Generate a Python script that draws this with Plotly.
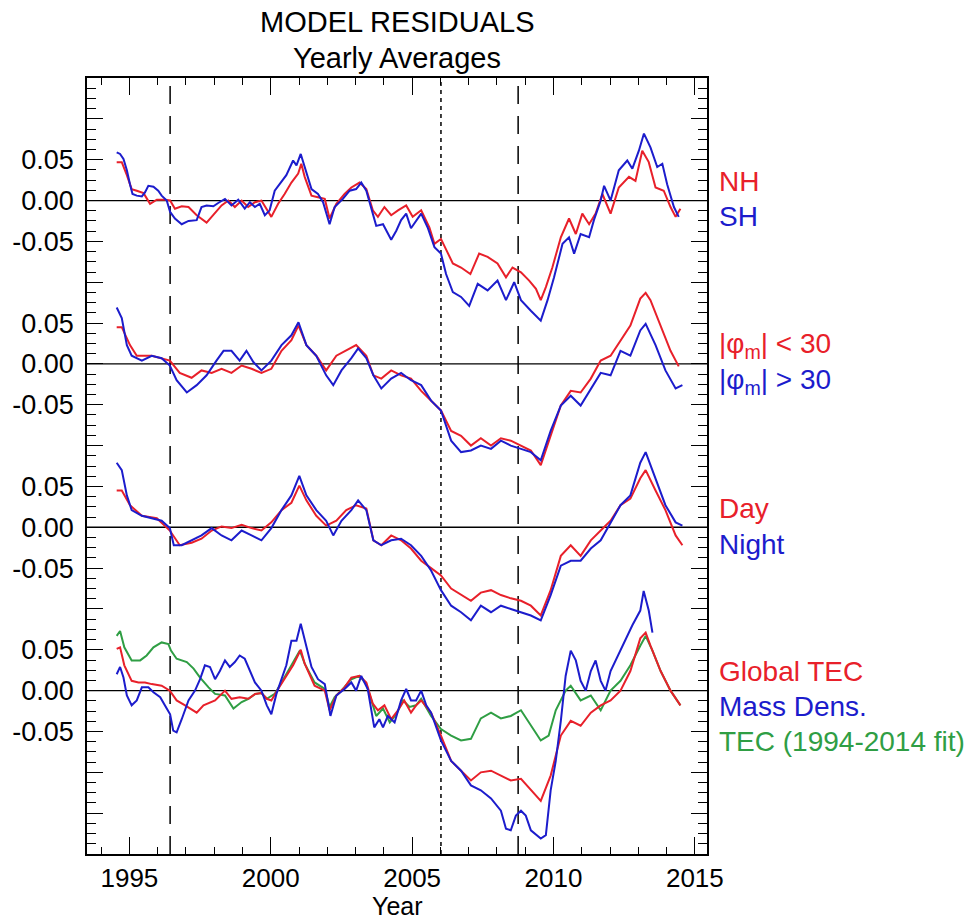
import plotly.graph_objects as go

# ---------------- data: yearly running-mean residuals ----------------
# Panel 1: hemispheres
nh_year = [1994.55, 1994.73, 1994.91, 1995.08, 1995.26, 1995.50, 1995.73, 1995.97, 1996.26, 1996.44,
           1996.61, 1996.85, 1997.09, 1997.38, 1997.73, 1997.97, 1998.26, 1998.50, 1998.73, 1998.97,
           1999.20, 1999.44, 1999.67, 2000.02, 2000.26, 2000.49, 2000.73, 2000.97, 2001.08, 2001.20,
           2001.44, 2001.67, 2001.91, 2002.08, 2002.32, 2002.61, 2002.85, 2003.14, 2003.38, 2003.61,
           2003.79, 2004.02, 2004.26, 2004.50, 2004.79, 2005.02, 2005.32, 2005.61, 2005.79, 2006.02,
           2006.26, 2006.44, 2006.73, 2007.06, 2007.37, 2007.67, 2008.02, 2008.32, 2008.55, 2008.85,
           2009.14, 2009.38, 2009.55, 2009.73, 2009.96, 2010.26, 2010.55, 2010.79, 2011.02, 2011.26,
           2011.49, 2011.73, 2012.02, 2012.31, 2012.67, 2012.90, 2013.14, 2013.37, 2013.61, 2013.90,
           2014.14, 2014.32, 2014.49]
nh_val = [0.047, 0.047, 0.031, 0.014, 0.012, 0.009, -0.004, 0.001, 0.001, 0.000,
          -0.010, -0.007, -0.008, -0.018, -0.027, -0.018, -0.006, 0.000, -0.008, 0.000,
          -0.008, -0.002, 0.000, -0.020, -0.004, 0.008, 0.022, 0.033, 0.045, 0.029,
          0.006, 0.004, 0.002, -0.022, -0.004, 0.008, 0.016, 0.022, 0.014, -0.012,
          -0.020, -0.008, -0.018, -0.012, -0.006, -0.020, -0.012, -0.033, -0.053, -0.047,
          -0.065, -0.077, -0.082, -0.090, -0.065, -0.069, -0.077, -0.094, -0.082, -0.088,
          -0.098, -0.108, -0.122, -0.106, -0.082, -0.045, -0.022, -0.041, -0.016, -0.029,
          -0.016, 0.008, -0.016, 0.016, 0.029, 0.024, 0.061, 0.047, 0.016, 0.012,
          -0.008, -0.020, -0.010]

sh_year = [1994.55, 1994.67, 1994.79, 1994.91, 1995.02, 1995.11, 1995.26, 1995.44, 1995.55, 1995.67,
           1995.85, 1996.02, 1996.14, 1996.32, 1996.44, 1996.61, 1996.85, 1997.09, 1997.38, 1997.55,
           1997.73, 1997.97, 1998.14, 1998.38, 1998.61, 1998.85, 1999.08, 1999.26, 1999.44, 1999.61,
           1999.79, 1999.96, 2000.14, 2000.38, 2000.55, 2000.79, 2000.91, 2001.06, 2001.20, 2001.44,
           2001.67, 2001.85, 2002.08, 2002.26, 2002.55, 2002.79, 2003.02, 2003.20, 2003.38, 2003.55,
           2003.73, 2003.97, 2004.14, 2004.26, 2004.44, 2004.61, 2004.79, 2004.96, 2005.32, 2005.55,
           2005.79, 2006.02, 2006.20, 2006.44, 2006.73, 2007.02, 2007.32, 2007.67, 2008.02, 2008.32,
           2008.61, 2008.85, 2009.20, 2009.55, 2009.79, 2010.02, 2010.32, 2010.55, 2010.73, 2010.96,
           2011.26, 2011.43, 2011.67, 2011.79, 2012.02, 2012.31, 2012.61, 2012.79, 2013.02, 2013.20,
           2013.43, 2013.67, 2013.85, 2014.02, 2014.26, 2014.43]
sh_val = [0.059, 0.057, 0.051, 0.037, 0.020, 0.008, 0.006, 0.005, 0.010, 0.018,
          0.017, 0.012, 0.006, 0.000, -0.014, -0.022, -0.029, -0.025, -0.024, -0.008,
          -0.006, -0.007, -0.003, 0.002, -0.006, 0.001, -0.010, -0.002, -0.008, -0.004,
          -0.018, -0.012, 0.012, 0.024, 0.031, 0.049, 0.043, 0.057, 0.041, 0.014,
          0.008, -0.002, -0.029, -0.008, 0.002, 0.012, 0.014, 0.022, 0.012, -0.008,
          -0.031, -0.029, -0.041, -0.048, -0.037, -0.024, -0.016, -0.034, -0.016, -0.033,
          -0.057, -0.065, -0.090, -0.112, -0.118, -0.129, -0.102, -0.110, -0.098, -0.122,
          -0.100, -0.122, -0.135, -0.147, -0.122, -0.094, -0.053, -0.045, -0.065, -0.041,
          -0.045, -0.024, 0.000, 0.018, 0.000, 0.037, 0.049, 0.039, 0.061, 0.082,
          0.065, 0.041, 0.045, 0.020, -0.008, -0.020]

# Panel 2: magnetic latitude bands
lowlat_year = [1994.55, 1994.73, 1995.02, 1995.26, 1995.79, 1996.14, 1996.43, 1996.78, 1997.20, 1997.55,
               1997.91, 1998.26, 1998.61, 1998.97, 1999.32, 1999.67, 2000.02, 2000.38, 2000.73, 2000.98,
               2001.26, 2001.61, 2001.96, 2002.32, 2002.67, 2003.02, 2003.38, 2003.63, 2003.91, 2004.26,
               2004.61, 2004.96, 2005.32, 2005.67, 2006.02, 2006.38, 2006.73, 2007.08, 2007.43, 2007.79,
               2008.14, 2008.49, 2008.85, 2009.20, 2009.55, 2009.90, 2010.26, 2010.61, 2010.96, 2011.32,
               2011.67, 2012.02, 2012.37, 2012.72, 2013.07, 2013.26, 2013.43, 2013.79, 2014.14, 2014.43]
lowlat_val = [0.045, 0.045, 0.023, 0.010, 0.010, 0.007, 0.004, -0.011, -0.017, -0.008,
              -0.011, -0.006, -0.011, -0.002, -0.006, -0.011, -0.006, 0.016, 0.029, 0.047,
              0.023, 0.010, -0.008, 0.010, 0.016, 0.023, 0.010, -0.014, -0.018, -0.008,
              -0.014, -0.018, -0.033, -0.045, -0.057, -0.082, -0.088, -0.100, -0.091, -0.100,
              -0.091, -0.094, -0.100, -0.106, -0.124, -0.088, -0.051, -0.033, -0.035, -0.018,
              0.004, 0.010, 0.029, 0.047, 0.080, 0.087, 0.078, 0.047, 0.016, -0.003]

highlat_year = [1994.55, 1994.73, 1994.91, 1995.08, 1995.44, 1995.79, 1996.14, 1996.43, 1996.67, 1997.03,
                1997.38, 1997.73, 1998.08, 1998.33, 1998.61, 1998.90, 1999.14, 1999.39, 1999.67, 2000.02,
                2000.38, 2000.73, 2000.98, 2001.26, 2001.61, 2001.96, 2002.21, 2002.50, 2002.85, 2003.09,
                2003.38, 2003.63, 2003.91, 2004.26, 2004.61, 2004.96, 2005.32, 2005.67, 2006.02, 2006.38,
                2006.73, 2007.08, 2007.43, 2007.79, 2008.14, 2008.49, 2008.85, 2009.20, 2009.55, 2009.90,
                2010.26, 2010.61, 2010.96, 2011.32, 2011.67, 2012.02, 2012.37, 2012.72, 2013.07, 2013.26,
                2013.61, 2013.96, 2014.32, 2014.56]
highlat_val = [0.069, 0.056, 0.023, 0.010, 0.004, 0.010, 0.007, -0.002, -0.020, -0.035,
               -0.026, -0.014, 0.004, 0.016, 0.016, 0.004, 0.016, 0.002, -0.008, 0.004,
               0.023, 0.035, 0.051, 0.023, 0.010, -0.014, -0.026, -0.008, 0.007, 0.019,
               0.007, -0.014, -0.030, -0.018, -0.011, -0.020, -0.026, -0.045, -0.057, -0.094,
               -0.108, -0.106, -0.100, -0.104, -0.094, -0.100, -0.104, -0.108, -0.118, -0.082,
               -0.051, -0.039, -0.051, -0.030, -0.011, -0.014, 0.016, 0.010, 0.041, 0.049,
               0.023, -0.008, -0.030, -0.026]

# Panel 3: local time
day_year = [1994.55, 1994.73, 1995.02, 1995.44, 1995.97, 1996.43, 1996.78, 1997.20, 1997.55, 1997.91,
            1998.26, 1998.61, 1998.97, 1999.32, 1999.67, 2000.02, 2000.38, 2000.73, 2001.01, 2001.26,
            2001.61, 2001.96, 2002.32, 2002.67, 2003.02, 2003.38, 2003.63, 2003.91, 2004.26, 2004.61,
            2004.96, 2005.32, 2005.67, 2006.02, 2006.38, 2006.73, 2007.08, 2007.43, 2007.79, 2008.14,
            2008.49, 2008.85, 2009.20, 2009.55, 2009.90, 2010.26, 2010.61, 2010.96, 2011.32, 2011.67,
            2012.02, 2012.37, 2012.72, 2013.07, 2013.26, 2013.61, 2013.96, 2014.32, 2014.56]
day_val = [0.045, 0.045, 0.027, 0.014, 0.011, -0.004, -0.022, -0.019, -0.014, -0.004,
           0.001, -0.001, 0.003, -0.001, -0.004, 0.006, 0.021, 0.030, 0.051, 0.033,
           0.014, 0.002, 0.008, 0.021, 0.027, 0.023, -0.016, -0.022, -0.010, -0.016,
           -0.026, -0.041, -0.050, -0.059, -0.075, -0.083, -0.090, -0.080, -0.077, -0.083,
           -0.087, -0.090, -0.096, -0.108, -0.077, -0.035, -0.022, -0.035, -0.016, -0.004,
           0.008, 0.027, 0.035, 0.060, 0.070, 0.045, 0.021, -0.010, -0.022]

night_year = [1994.55, 1994.73, 1994.91, 1995.08, 1995.44, 1995.79, 1996.14, 1996.43, 1996.57, 1996.85,
              1997.20, 1997.55, 1997.91, 1998.26, 1998.61, 1998.97, 1999.32, 1999.67, 2000.02, 2000.38,
              2000.73, 2001.01, 2001.26, 2001.61, 2001.96, 2002.21, 2002.50, 2002.85, 2003.09, 2003.38,
              2003.63, 2003.91, 2004.26, 2004.61, 2004.96, 2005.32, 2005.67, 2006.02, 2006.38, 2006.73,
              2007.08, 2007.43, 2007.79, 2008.14, 2008.49, 2008.85, 2009.20, 2009.55, 2009.90, 2010.26,
              2010.61, 2010.96, 2011.32, 2011.67, 2012.02, 2012.37, 2012.72, 2013.07, 2013.26, 2013.61,
              2013.96, 2014.32, 2014.56]
night_val = [0.079, 0.070, 0.039, 0.021, 0.014, 0.011, 0.008, -0.001, -0.022, -0.022,
             -0.016, -0.010, -0.001, -0.010, -0.016, -0.004, -0.010, -0.016, -0.001, 0.021,
             0.039, 0.063, 0.039, 0.021, 0.008, -0.010, 0.008, 0.021, 0.033, 0.021,
             -0.016, -0.022, -0.016, -0.014, -0.022, -0.035, -0.053, -0.077, -0.096, -0.104,
             -0.114, -0.096, -0.104, -0.096, -0.100, -0.104, -0.108, -0.114, -0.083, -0.047,
             -0.041, -0.041, -0.026, -0.016, 0.006, 0.027, 0.039, 0.079, 0.092, 0.060,
             0.027, 0.006, 0.002]

# Panel 4: TEC vs. thermospheric mass density
tec_year = [1994.55, 1994.67, 1994.82, 1995.08, 1995.32, 1995.55, 1995.79, 1996.14, 1996.43, 1996.67,
            1996.97, 1997.38, 1997.62, 1998.03, 1998.38, 1998.61, 1998.90, 1999.21, 1999.45, 1999.67,
            1999.86, 2000.02, 2000.26, 2000.49, 2000.79, 2001.06, 2001.20, 2001.55, 2001.91, 2002.08,
            2002.32, 2002.61, 2002.85, 2003.14, 2003.38, 2003.61, 2003.79, 2004.02, 2004.26, 2004.50,
            2004.72, 2004.96, 2005.14, 2005.32, 2005.67, 2006.02, 2006.38, 2006.73, 2007.08, 2007.43,
            2007.79, 2008.14, 2008.49, 2008.85, 2009.20, 2009.55, 2009.90, 2010.26, 2010.61, 2010.96,
            2011.32, 2011.67, 2012.02, 2012.37, 2012.72, 2013.07, 2013.26, 2013.43, 2013.79, 2014.14,
            2014.49]
tec_val = [0.051, 0.053, 0.031, 0.012, 0.010, 0.010, 0.008, 0.006, 0.000, -0.012,
           -0.018, -0.027, -0.018, -0.012, 0.000, -0.010, -0.008, -0.010, -0.004, -0.003,
           -0.010, -0.012, 0.002, 0.014, 0.031, 0.050, 0.033, 0.006, 0.000, -0.024,
           -0.006, 0.004, 0.016, 0.018, 0.010, -0.016, -0.024, -0.018, -0.035, -0.024,
           -0.012, -0.027, -0.018, -0.012, -0.027, -0.055, -0.086, -0.098, -0.110, -0.100,
           -0.098, -0.104, -0.110, -0.108, -0.122, -0.135, -0.104, -0.055, -0.037, -0.043,
           -0.027, -0.018, -0.012, 0.000, 0.024, 0.064, 0.071, 0.055, 0.024, 0.000,
           -0.018]

dens_year = [1994.55, 1994.67, 1994.79, 1994.91, 1995.08, 1995.26, 1995.44, 1995.67, 1995.85, 1996.09,
             1996.32, 1996.44, 1996.55, 1996.67, 1996.85, 1997.09, 1997.32, 1997.50, 1997.67, 1997.85,
             1998.03, 1998.20, 1998.38, 1998.55, 1998.73, 1998.90, 1999.08, 1999.26, 1999.44, 1999.67,
             1999.86, 2000.02, 2000.20, 2000.38, 2000.55, 2000.73, 2000.91, 2001.06, 2001.20, 2001.44,
             2001.67, 2001.91, 2002.11, 2002.32, 2002.61, 2002.85, 2003.02, 2003.20, 2003.43, 2003.66,
             2003.84, 2003.97, 2004.14, 2004.38, 2004.61, 2004.79, 2004.96, 2005.14, 2005.32, 2005.50,
             2005.67, 2006.02, 2006.38, 2006.73, 2007.08, 2007.43, 2007.79, 2008.14, 2008.32, 2008.49,
             2008.67, 2008.85, 2009.02, 2009.20, 2009.55, 2009.73, 2009.90, 2010.08, 2010.26, 2010.43,
             2010.61, 2010.79, 2010.96, 2011.14, 2011.32, 2011.49, 2011.67, 2011.84, 2012.02, 2012.20,
             2012.37, 2012.55, 2012.79, 2013.07, 2013.19, 2013.37, 2013.50]
dens_val = [0.020, 0.029, 0.016, -0.006, -0.018, -0.012, 0.004, 0.004, -0.002, -0.008,
            -0.022, -0.029, -0.049, -0.051, -0.035, -0.012, 0.000, 0.014, 0.031, 0.029,
            0.014, 0.024, 0.037, 0.029, 0.035, 0.043, 0.039, 0.024, 0.010, 0.000,
            -0.018, -0.029, -0.004, 0.014, 0.031, 0.061, 0.061, 0.082, 0.061, 0.029,
            0.014, 0.008, -0.031, -0.006, 0.002, 0.010, 0.000, 0.018, 0.002, -0.045,
            -0.035, -0.045, -0.031, -0.039, -0.012, 0.002, -0.012, -0.012, 0.000, -0.018,
            -0.027, -0.061, -0.086, -0.098, -0.116, -0.122, -0.132, -0.147, -0.169, -0.171,
            -0.153, -0.147, -0.153, -0.171, -0.181, -0.177, -0.122, -0.086, -0.037, 0.018,
            0.049, 0.037, 0.012, 0.000, 0.024, 0.037, 0.012, 0.000, 0.024, 0.037,
            0.049, 0.061, 0.080, 0.098, 0.122, 0.098, 0.071]

tecfit_year = [1994.55, 1994.67, 1994.82, 1995.08, 1995.38, 1995.61, 1995.85, 1996.14, 1996.38, 1996.47,
               1996.67, 1997.03, 1997.27, 1997.50, 1997.80, 1998.03, 1998.38, 1998.68, 1998.97, 1999.21,
               1999.45, 1999.67, 1999.86, 2000.14, 2000.38, 2000.73, 2001.03, 2001.20, 2001.55, 2001.91,
               2002.08, 2002.26, 2002.55, 2002.85, 2003.14, 2003.38, 2003.61, 2003.73, 2003.97, 2004.21,
               2004.44, 2004.68, 2004.91, 2005.14, 2005.32, 2005.67, 2006.02, 2006.38, 2006.73, 2007.08,
               2007.43, 2007.79, 2008.14, 2008.49, 2008.85, 2009.20, 2009.55, 2009.83, 2010.08, 2010.43,
               2010.61, 2010.96, 2011.32, 2011.67, 2012.02, 2012.37, 2012.72, 2013.07, 2013.26, 2013.50,
               2013.79, 2014.14, 2014.49]
tecfit_val = [0.067, 0.073, 0.053, 0.037, 0.037, 0.043, 0.053, 0.059, 0.057, 0.049,
              0.039, 0.035, 0.027, 0.016, 0.004, -0.004, -0.006, -0.022, -0.014, -0.010,
              -0.004, -0.003, -0.010, -0.004, 0.010, 0.031, 0.049, 0.033, 0.010, 0.002,
              -0.020, -0.008, 0.002, 0.014, 0.018, 0.008, -0.016, -0.031, -0.022, -0.039,
              -0.029, -0.012, -0.020, -0.018, -0.010, -0.031, -0.047, -0.055, -0.061, -0.059,
              -0.034, -0.027, -0.034, -0.031, -0.024, -0.043, -0.061, -0.055, -0.024, 0.000,
              0.006, -0.012, -0.006, -0.024, 0.000, 0.012, 0.031, 0.055, 0.067, 0.049,
              0.024, 0.000, -0.018]

# Vertical reference epochs (solar minima dashed, 2006 dotted)
minima_years = [1996.44, 2008.75]
mid_year = 2006.02

# Stacking of the four panels and their labels
panel_offsets = [0.0, -0.2, -0.4, -0.6]
panel_tick_values = [0.05, 0.0, -0.05]
panel_tick_text = ["0.05", "0.00", "-0.05"]
year_ticks = [1995, 2000, 2005, 2010, 2015]

RED = "#e8202a"
BLUE = "#1c1ccc"
GREEN = "#2f9e44"

panels = [
    [(nh_year, nh_val, RED), (sh_year, sh_val, BLUE)],
    [(lowlat_year, lowlat_val, RED), (highlat_year, highlat_val, BLUE)],
    [(day_year, day_val, RED), (night_year, night_val, BLUE)],
    [(tecfit_year, tecfit_val, GREEN), (tec_year, tec_val, RED), (dens_year, dens_val, BLUE)],
]

panel_labels = [
    [("NH", 0.023, RED), ("SH", -0.020, BLUE)],
    [("|φ<sub>m</sub>| &lt; 30", 0.023, RED), ("|φ<sub>m</sub>| &gt; 30", -0.021, BLUE)],
    [("Day", 0.023, RED), ("Night", -0.021, BLUE)],
    [("Global TEC", 0.024, RED), ("Mass Dens.", -0.020, BLUE), ("TEC (1994-2014 fit)", -0.062, GREEN)],
]

FONT = "Liberation Sans, Arial, sans-serif"
FS = 27
X_RANGE = [1993.5, 2015.43]
Y_RANGE = [-0.8, 0.15]
PLOT_H = 776.0  # plot-area height in px, used to place text outside the frame

fig = go.Figure()

# zero lines of each panel
for off in panel_offsets:
    fig.add_shape(type="line", xref="paper", x0=0, x1=1, yref="y", y0=off, y1=off,
                  line=dict(color="black", width=1.3), layer="below")

# vertical epoch markers
for yr in minima_years:
    fig.add_shape(type="line", xref="x", x0=yr, x1=yr, yref="paper", y0=0, y1=1,
                  line=dict(color="black", width=1.5, dash="18px,12px"), layer="below")
fig.add_shape(type="line", xref="x", x0=mid_year, x1=mid_year, yref="paper", y0=0, y1=1,
              line=dict(color="black", width=1.5, dash="4px,4px"), layer="below")

for off, series in zip(panel_offsets, panels):
    for yrs, vals, col in series:
        fig.add_trace(go.Scatter(x=yrs, y=[v + off for v in vals], mode="lines",
                                 line=dict(color=col, width=2), showlegend=False,
                                 hoverinfo="skip"))

# empty trace that anchors the unlabelled tick axis
fig.add_trace(go.Scatter(x=[None], y=[None], yaxis="y2", mode="lines",
                         showlegend=False, hoverinfo="skip"))

# right-hand series labels
for off, labels in zip(panel_offsets, panel_labels):
    for text, yv, col in labels:
        fig.add_annotation(x=1.016, xref="paper", xanchor="left", y=yv + off, yref="y",
                           yanchor="middle", text=text, showarrow=False,
                           font=dict(family=FONT, size=FS + 1, color=col))

# labelled y ticks around each panel's zero
label_vals, label_text = [], []
for off in panel_offsets:
    for rel, lab in zip(panel_tick_values, panel_tick_text):
        label_vals.append(round(off + rel, 4))
        label_text.append(lab)

# every 0.05 gets a long tick (no label) on the overlay axis
n_major = int(round((Y_RANGE[1] - Y_RANGE[0]) / 0.05)) + 1
major_vals = [round(Y_RANGE[0] + i * 0.05, 4) for i in range(n_major)]

fig.update_layout(
    width=980, height=923,
    margin=dict(l=85, r=273, t=78, b=69),
    paper_bgcolor="white", plot_bgcolor="white",
    font=dict(family=FONT, size=FS, color="black"),
    xaxis=dict(range=X_RANGE, showgrid=False, zeroline=False, showline=True,
               linecolor="black", linewidth=1.5, mirror="ticks",
               ticks="inside", ticklen=17, tickwidth=1.3, tickcolor="black",
               tickmode="array", tickvals=year_ticks,
               ticktext=[str(y) for y in year_ticks],
               ticklabelstandoff=0,
               tickfont=dict(family=FONT, size=26, color="black"),
               minor=dict(tickmode="linear", tick0=1993, dtick=1, ticks="inside",
                          ticklen=7, tickwidth=1.3, tickcolor="black", showgrid=False)),
    yaxis=dict(range=Y_RANGE, showgrid=False, zeroline=False, showline=True,
               linecolor="black", linewidth=1.5, mirror="ticks",
               ticks="inside", ticklen=16, tickwidth=1.3, tickcolor="black",
               tickmode="array", tickvals=label_vals, ticktext=label_text,
               ticklabelstandoff=6,
               tickfont=dict(family=FONT, size=FS, color="black")),
    yaxis2=dict(range=Y_RANGE, overlaying="y", side="left", showgrid=False,
                zeroline=False, showline=False, showticklabels=False, mirror="ticks",
                ticks="inside", ticklen=16, tickwidth=1.3, tickcolor="black",
                tickmode="array", tickvals=major_vals,
                minor=dict(tickmode="linear", tick0=0, dtick=0.0125, ticks="inside",
                           ticklen=9, tickwidth=1.3, tickcolor="black", showgrid=False)),
)

# title lines and x-axis title
fig.add_annotation(x=0.5, xref="paper", xanchor="center", y=1 + 56 / PLOT_H, yref="paper",
                   yanchor="middle", text="MODEL RESIDUALS", showarrow=False,
                   font=dict(family=FONT, size=29, color="black"))
fig.add_annotation(x=0.5, xref="paper", xanchor="center", y=1 + 20 / PLOT_H, yref="paper",
                   yanchor="middle", text="Yearly Averages", showarrow=False,
                   font=dict(family=FONT, size=29, color="black"))
fig.add_annotation(x=0.5, xref="paper", xanchor="center", y=-68.5 / PLOT_H, yref="paper",
                   yanchor="bottom", text="Year", showarrow=False,
                   font=dict(family=FONT, size=25, color="black"))

fig.write_html("out.html")
